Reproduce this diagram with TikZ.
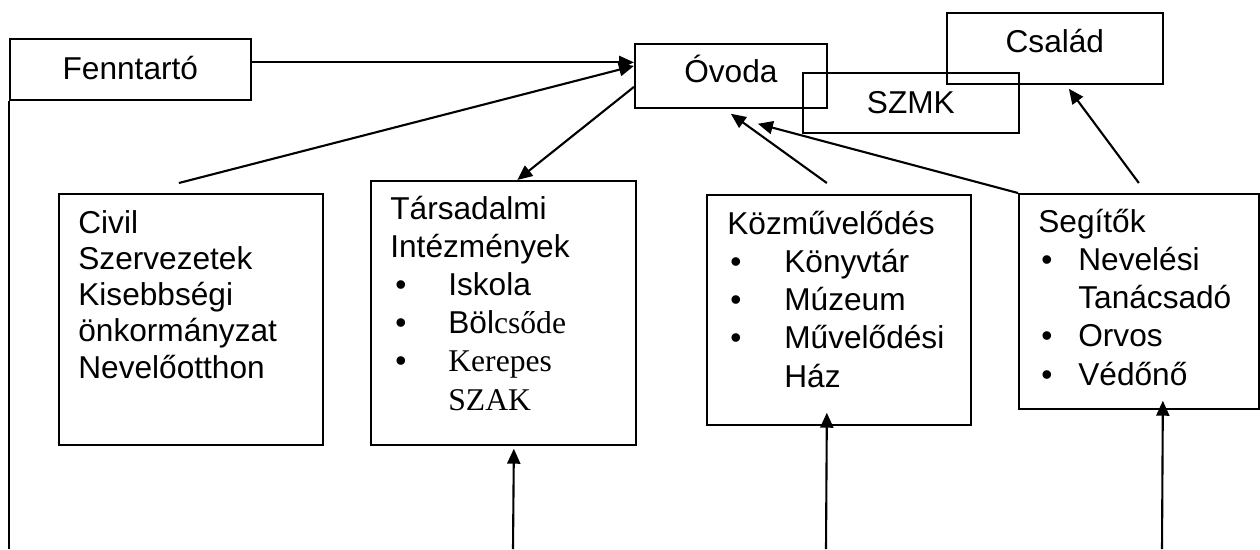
\documentclass[tikz,border=0pt]{standalone}
\usepackage{fontspec}
\setmainfont{Liberation Sans}
\newfontfamily\timesfont{Liberation Serif}
\usetikzlibrary{arrows.meta}

\newcommand{\pont}[1]{\makebox[#1][l]{\textbullet}}

\begin{document}
\begin{tikzpicture}[x=0.02cm, y=-0.02cm,
	box/.style={draw, line width=1pt, anchor=north west, inner sep=0pt},
	txt/.style={anchor=base west, align=left, inner sep=0pt},
	arr/.style={-{Triangle[length=0.3cm,width=0.26cm]}, line width=1.2pt},
	font=\fontsize{18}{21.7}\selectfont]

	\useasboundingbox (0,0) rectangle (1260,549);

	% felso sor
	\node[box, minimum width=4.82cm, minimum height=1.22cm, text height=0.5cm, text depth=0.08cm] (fenn) at (9,38) {Fenntartó};
	\node[box, minimum width=3.84cm, minimum height=1.28cm, text height=0.4cm, text depth=0.12cm] (ovoda) at (634,43) {Óvoda};
	\node[box, minimum width=4.32cm, minimum height=1.2cm, text height=0.52cm, text depth=0.08cm] (szmk) at (802,72) {SZMK};
	\node[box, minimum width=4.32cm, minimum height=1.42cm, text height=0.3cm, text depth=0.12cm] (csalad) at (946,12) {Család};

	% also dobozok (szoveg: az utolso sor alapvonalahoz igazitva)
	\node[box, minimum width=5.28cm, minimum height=5.02cm] (civil) at (58,193) {};
	\node[txt, font=\fontsize{18}{20.6}\selectfont] (civiltxt) at (78,378) {Civil\\Szervezetek\\Kisebbségi\\önkormányzat\\Nevelőotthon};

	\node[box, minimum width=5.3cm, minimum height=5.28cm] (tars) at (370,180) {};
	\node[txt] (tarstxt) at (390,410) {Társadalmi\\Intézmények\\
		\hspace{0.1cm}\pont{1.06cm}Iskola\\
		\hspace{0.1cm}\pont{1.06cm}Böl{\timesfont csőde}\\
		\hspace{0.1cm}\pont{1.06cm}{\timesfont Kerepes}\\
		\hspace{1.16cm}{\timesfont SZAK}};

	\node[box, minimum width=5.28cm, minimum height=4.6cm] (kozm) at (706,194) {};
	\node[txt] (kozmtxt) at (727,387) {Közművelődés\\
		\hspace{0.06cm}\pont{1.08cm}Könyvtár\\
		\hspace{0.06cm}\pont{1.08cm}Múzeum\\
		\hspace{0.06cm}\pont{1.08cm}Művelődési\\
		\hspace{1.14cm}Ház};

	\node[box, minimum width=4.8cm, minimum height=4.3cm] (segito) at (1018,193) {};
	\node[txt] (segitotxt) at (1038,385) {Segítők\\
		\hspace{0.06cm}\pont{0.74cm}Nevelési\\
		\hspace{0.8cm}Tanácsadó\\
		\hspace{0.06cm}\pont{0.74cm}Orvos\\
		\hspace{0.06cm}\pont{0.74cm}Védőnő};

	% kapcsolatok
	\coordinate (bal) at (9,549);
	\draw[line width=1pt] (fenn.south west) -- (bal);
	\draw[arr] ([yshift=0.14cm]fenn.east) coordinate (f1) -- (f1 -| ovoda.west);
	\draw[arr] ([xshift=-0.24cm,yshift=0.2cm]civil.north) -- ([yshift=0.2cm]ovoda.west);
	\draw[arr] ([yshift=-0.22cm]ovoda.west) -- ([xshift=0.28cm]tars.north);
	\draw[arr] ([xshift=-0.24cm,yshift=0.22cm]kozm.north) -- ([yshift=-0.1cm]ovoda.south);
	\draw[arr] (segito.north west) -- ([xshift=0.54cm,yshift=-0.3cm]ovoda.south);
	\draw[arr] ([yshift=0.2cm]segito.north) -- ([xshift=0.28cm,yshift=-0.08cm]csalad.south);

	\coordinate (alj1) at (513,549);
	\coordinate (alj2) at (826,549);
	\coordinate (alj3) at (1162,549);
	\draw[arr] (alj1) -- ([xshift=0.21cm,yshift=-0.06cm]tars.south);
	\draw[arr] (alj2) -- ([xshift=-0.24cm,yshift=0.26cm]kozm.south);
	\draw[arr] (alj3) -- ([xshift=0.48cm,yshift=0.18cm]segito.south);

\end{tikzpicture}
\end{document}
